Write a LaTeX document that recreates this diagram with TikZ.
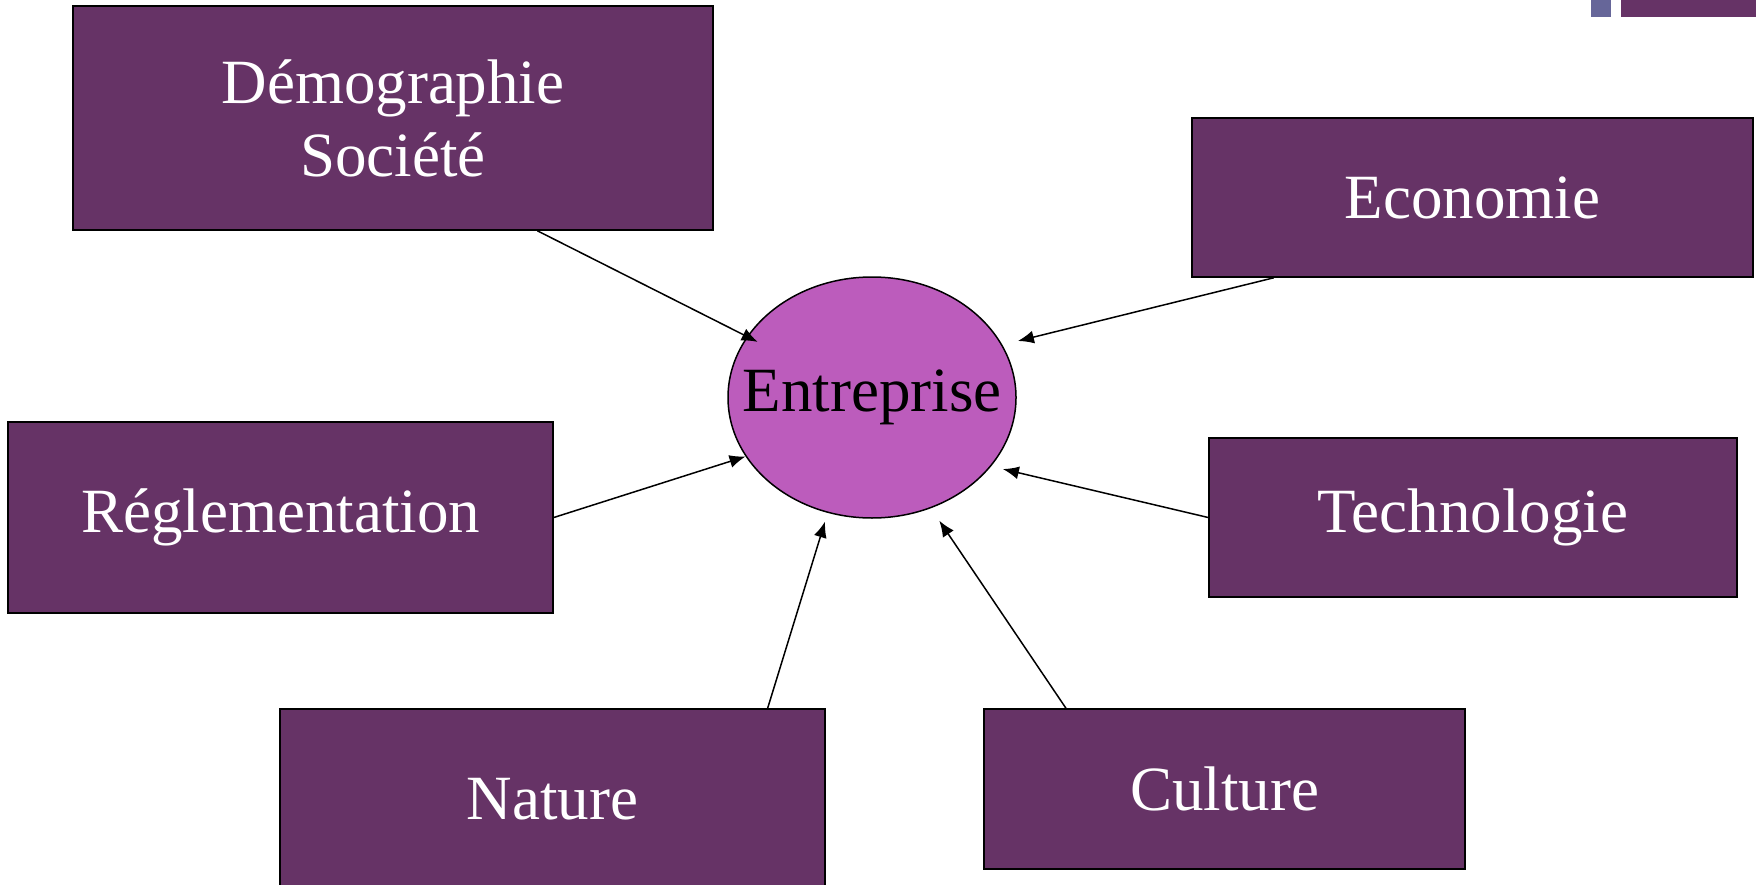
\documentclass[tikz,border=0pt]{standalone}
\usepackage{fontspec}
\setmainfont{Liberation Serif}
\usetikzlibrary{arrows.meta,shapes.geometric}
\definecolor{boxpurple}{HTML}{663366}
\definecolor{entmauve}{HTML}{BC5CBC}
\definecolor{slateblue}{HTML}{666699}

\begin{document}
\begin{tikzpicture}
  [x=1pt,y=-1pt,
   facteur/.style={draw=black,line width=1.6pt,fill=boxpurple,text=white,inner sep=0pt,align=center,font=\fontsize{63}{73}\selectfont},
   lien/.style={line width=1.5pt,-{Latex[length=16pt,width=13pt]}}]
  \useasboundingbox (0,0) rectangle (1760,885);
  % coin en haut a droite
  \fill[slateblue] (1591,0) rectangle (1611,17);
  \fill[boxpurple] (1621,0) rectangle (1756,17);
  \node[facteur,minimum width=640pt,minimum height=224pt] (dem) at (393,118) {Démographie\\Société};
  \node[facteur,minimum width=561pt,minimum height=159pt] (eco) at (1472.5,197.5) {Economie};
  \node[facteur,minimum width=545pt,minimum height=191pt] (reg) at (280.5,517.5) {Réglementation};
  \node[facteur,minimum width=528pt,minimum height=159pt] (tech) at (1473,517.5) {Technologie};
  \node[facteur,minimum width=545pt,minimum height=181pt] (nat) at (552.5,799.5) {Nature};
  \node[facteur,minimum width=481pt,minimum height=160pt] (cult) at (1224.5,789) {Culture};
  \node[ellipse,draw=black,line width=1.5pt,fill=entmauve,inner sep=0pt,minimum width=288pt,minimum height=241pt,font=\fontsize{63}{73}\selectfont] (ent) at (872,397.5) {\makebox[0pt]{Entreprise}};
  \foreach \from/\to/\gap in {dem.-38/ent.154/-12pt, eco.-158/ent.22/16pt, reg.east/ent.205/0pt,
    tech.west/ent.-30/12pt, nat.23/ent.249/9pt, cult.153/ent.-62/15pt}
    \draw[lien,shorten >=\gap] (\from) -- (\to);
\end{tikzpicture}
\end{document}
